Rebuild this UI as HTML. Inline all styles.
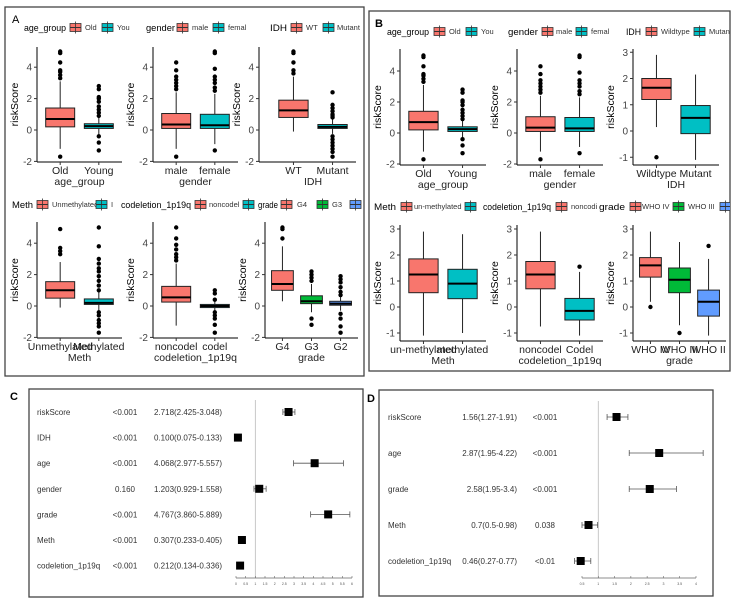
<!DOCTYPE html>
<html><head><meta charset="utf-8"><style>
body{margin:0;background:#fff;width:737px;height:606px;overflow:hidden}
svg{display:block;font-family:"Liberation Sans",sans-serif}
</style></head><body>
<svg id="fig" width="737" height="606">
<rect x="5" y="7" width="359" height="369" fill="none" stroke="#444" stroke-width="1.3"/>
<rect x="369" y="11" width="361" height="360" fill="none" stroke="#444" stroke-width="1.3"/>
<rect x="29" y="389" width="334" height="208" fill="none" stroke="#444" stroke-width="1.3"/>
<rect x="379" y="390" width="334" height="206" fill="none" stroke="#444" stroke-width="1.3"/>
<text x="12" y="23" font-size="11">A</text>
<text x="375" y="27" font-size="11" font-weight="bold">B</text>
<text x="10" y="400" font-size="11" font-weight="bold">C</text>
<text x="367" y="402" font-size="11" font-weight="bold">D</text>
<defs><clipPath id="clipA"><rect x="5" y="7" width="359" height="369"/></clipPath><clipPath id="clipB"><rect x="369" y="11" width="361" height="360"/></clipPath></defs>
<g id="gA" clip-path="url(#clipA)"></g>
<g id="gB" clip-path="url(#clipB)"></g>
<g id="gF"></g>
</svg>
<script>
// ---- Box plot data: [q1, median, q3, whiskerLow, whiskerHigh] ----
const a1Cats=["Old","Young"];
const a1Stats=[[0.2,0.7,1.4,-1.2,3.1],[0.1,0.25,0.4,-0.3,0.8]];
const a1Out=[[3.3,3.5,3.7,3.8,4.3,4.9,5.0,-1.7],[0.9,1.1,1.3,1.5,1.8,2.0,2.1,2.6,2.8,-0.4,-0.8,-1.3]];
const a2Cats=["male","female"];
const a2Stats=[[0.1,0.35,1.05,-1.2,2.4],[0.1,0.3,1.0,-0.9,2.3]];
const a2Out=[[2.6,2.8,3.0,3.2,3.4,3.8,4.3,-1.7],[2.5,2.7,3.0,3.2,3.4,3.9,4.9,5.0,-1.3]];
const a3Cats=["WT","Mutant"];
const a3Stats=[[0.8,1.25,1.9,-0.1,3.4],[0.1,0.2,0.35,-0.25,0.7]];
const a3Out=[[3.6,3.8,4.3,4.9,5.0],[0.8,0.9,1.0,1.2,1.4,1.6,2.4,-0.4,-0.6,-0.8,-1.0,-1.2,-1.4,-1.7]];
const a4Cats=["Unmethylated","Methylated"];
const a4Stats=[[0.5,1.0,1.55,-0.1,2.8],[0.1,0.2,0.45,-0.3,0.9]];
const a4Out=[[3.3,3.5,3.7,4.9],[1.0,1.3,1.6,1.9,2.2,2.4,2.7,3.0,3.8,5.0,-0.4,-0.6,-0.9,-1.1,-1.3,-1.7]];
const a5Cats=["noncodel","codel"];
const a5Stats=[[0.25,0.55,1.25,-1.25,2.7],[-0.1,0.0,0.1,-0.3,0.3]];
const a5Out=[[2.9,3.1,3.3,3.6,3.9,4.3,5.0],[0.4,0.8,1.0,-0.4,-0.6,-0.8,-1.2,-1.7]];
const a6Cats=["G4","G3","G2"];
const a6Stats=[[1.0,1.4,2.25,0.3,3.8],[0.15,0.3,0.65,-0.4,1.4],[0.05,0.15,0.3,-0.3,0.6]];
const a6Out=[[4.3,4.9,5.0],[1.6,1.8,2.0,2.2,-0.8,-1.2],[0.7,0.9,1.2,1.5,1.7,1.9,-0.5,-0.8,-1.3,-1.7]];
const b1Cats=["Old","Young"];
const b1Stats=[[0.2,0.7,1.4,-1.2,3.1],[0.1,0.25,0.4,-0.3,0.8]];
const b1Out=[[3.3,3.5,3.7,3.8,4.3,4.9,5.0,-1.7],[0.9,1.1,1.3,1.5,1.8,2.0,2.1,2.6,2.8,-0.4,-0.8,-1.3]];
const b2Cats=["male","female"];
const b2Stats=[[0.1,0.35,1.05,-1.2,2.4],[0.1,0.3,1.0,-0.9,2.3]];
const b2Out=[[2.6,2.8,3.0,3.2,3.4,3.8,4.3,-1.7],[2.5,2.7,3.0,3.2,3.4,3.9,4.9,5.0,-1.3]];
const b3Cats=["Wildtype","Mutant"];
const b3Stats=[[1.2,1.65,2.0,0.15,2.9],[-0.1,0.5,0.97,-1.1,2.15]];
const b3Out=[[-1.0],[]];
const b4Cats=["un-methylated","methylated"];
const b4Stats=[[0.55,1.25,1.85,-1.1,2.9],[0.32,0.9,1.45,-1.0,2.8]];
const b4Out=[[],[]];
const b5Cats=["noncodel","Codel"];
const b5Stats=[[0.7,1.25,1.75,-0.75,2.9],[-0.5,-0.15,0.33,-1.1,1.35]];
const b5Out=[[],[1.55]];
const b6Cats=["WHO IV","WHO III","WHO II"];
const b6Stats=[[1.15,1.6,1.9,0.2,2.9],[0.55,1.05,1.5,-0.7,2.5],[-0.35,0.2,0.65,-1.1,1.85]];
const b6Out=[[0.0],[-1.0],[2.35]];
const yTicksWide=[-2,0,2,4];
const yTicksNarrow=[-1,0,1,2,3];
// ---- Forest data ----
const cVars=["riskScore","IDH","age","gender","grade","Meth","codeletion_1p19q"];
const cP=["<0.001","<0.001","<0.001","0.160","<0.001","<0.001","<0.001"];
const cHR=[2.718,0.100,4.068,1.203,4.767,0.307,0.212];
const cLo=[2.425,0.075,2.977,0.929,3.860,0.233,0.134];
const cHi=[3.048,0.133,5.557,1.558,5.889,0.405,0.336];
const cTicks=[0,0.5,1,1.5,2,2.5,3,3.5,4,4.5,5,5.5,6];
const dVars=["riskScore","age","grade","Meth","codeletion_1p19q"];
const dHRtxt=["1.56(1.27-1.91)","2.87(1.95-4.22)","2.58(1.95-3.4)","0.7(0.5-0.98)","0.46(0.27-0.77)"];
const dP=["<0.001","<0.001","<0.001","0.038","<0.01"];
const dHR=[1.56,2.87,2.58,0.7,0.46];
const dLo=[1.27,1.95,1.95,0.5,0.27];
const dHi=[1.91,4.22,3.4,0.98,0.77];
const dTicks=[0.5,1,1.5,2,2.5,3,3.5,4];

const NS="http://www.w3.org/2000/svg";
function mk(tag,attrs,parent,txt){const e=document.createElementNS(NS,tag);for(const k in attrs)e.setAttribute(k,attrs[k]);if(txt!==undefined)e.textContent=txt;parent.appendChild(e);return e;}
const RED="#F8766D",TEAL="#00BFC4",GREEN="#00BA38",BLUE="#619CFF";

function boxPanel(parent,cfg,cats,stats,outs,colors,ticks,xTitle,name){
  const g=mk("g",{},parent);
  
  
  const y=v=>cfg.zero-v*cfg.unit;
  const n=cats.length, step=(cfg.pR-cfg.pL)/(n+0.2);
  const x=i=>cfg.pL+(i+0.6)*step;
  const bw=step*0.75;
  mk("line",{x1:cfg.ax,y1:cfg.top,x2:cfg.ax,y2:cfg.bot,stroke:"#000","stroke-width":1},g);
  mk("line",{x1:cfg.ax,y1:cfg.bot,x2:cfg.pR,y2:cfg.bot,stroke:"#000","stroke-width":1},g);
  ticks.forEach(t=>{
    mk("line",{x1:cfg.ax-3,y1:y(t),x2:cfg.ax,y2:y(t),stroke:"#333"},g);
    const tl=mk("text",{x:cfg.ax-5,y:y(t)+3.5,"font-size":10,"text-anchor":"end",fill:"#444"},g,String(t));
    
    
  });
  const yt=mk("text",{transform:`translate(${cfg.ax-19},${(cfg.top+cfg.bot)/2}) rotate(-90)`,"font-size":10.5,"text-anchor":"middle"},g,"riskScore");
  
  
  cats.forEach((c,i)=>{
    const s=stats[i],cx=x(i);
    mk("line",{x1:cx,y1:cfg.bot,x2:cx,y2:cfg.bot+3,stroke:"#333"},g);
    const xl=mk("text",{x:cx,y:cfg.bot+12,"font-size":10.5,"text-anchor":"middle",fill:"#222"},g,c);
    
    
    mk("line",{x1:cx,y1:y(s[4]),x2:cx,y2:y(s[3]),stroke:"#222","stroke-width":1},g);
    const r=mk("rect",{x:cx-bw/2,y:y(s[2]),width:bw,height:y(s[0])-y(s[2]),fill:colors[i],stroke:"#222","stroke-width":1},g);
    
    
    mk("line",{x1:cx-bw/2,y1:y(s[1]),x2:cx+bw/2,y2:y(s[1]),stroke:"#000","stroke-width":2},g);
    outs[i].forEach(o=>{
      const p=mk("circle",{cx:cx,cy:y(o),r:2.2,fill:"#000"},g);
      
      
    });
  });
  const xt=mk("text",{x:(cfg.pL+cfg.pR)/2,y:cfg.bot+23,"font-size":10.5,"text-anchor":"middle",fill:"#222"},g,xTitle);
  
  
}
function legend(parent,y,items,name){
  const g=mk("g",{},parent);
  
  
  items.forEach(it=>{
    if(it.t==="title"){mk("text",{x:it.x,y:y+4,"font-size":9.5,textLength:it.w||null,lengthAdjust:"spacingAndGlyphs"},g,it.s);}
    else if(it.t==="key"){mk("rect",{x:it.x,y:y-3.5,width:11,height:8,fill:it.c,stroke:"#333","stroke-width":0.8},g);mk("line",{x1:it.x,y1:y+0.5,x2:it.x+11,y2:y+0.5,stroke:"#333","stroke-width":1},g);mk("line",{x1:it.x+5.5,y1:y-5.5,x2:it.x+5.5,y2:y+6.5,stroke:"#333","stroke-width":0.8},g);}
    else {mk("text",{x:it.x,y:y+3,"font-size":7.5,fill:"#333"},g,it.s);}
  });
  g.querySelectorAll("text").forEach(t=>{if(t.getAttribute("textLength")==="null")t.removeAttribute("textLength");});
}
const gA=document.getElementById("gA"),gB=document.getElementById("gB"),gF=document.getElementById("gF");
const At={zero:130,unit:15.7,top:47,bot:162};
const Ab={zero:306,unit:15.7,top:222,bot:338};
boxPanel(gA,{...At,ax:37,pL:37,pR:122},a1Cats,a1Stats,a1Out,[RED,TEAL],yTicksWide,"age_group","box-a-age");
boxPanel(gA,{...At,ax:153,pL:153,pR:238},a2Cats,a2Stats,a2Out,[RED,TEAL],yTicksWide,"gender","box-a-gender");
boxPanel(gA,{...At,ax:259,pL:270,pR:356},a3Cats,a3Stats,a3Out,[RED,TEAL],yTicksWide,"IDH","box-a-idh");
boxPanel(gA,{...Ab,ax:37,pL:37,pR:122},a4Cats,a4Stats,a4Out,[RED,TEAL],yTicksWide,"Meth","box-a-meth");
boxPanel(gA,{...Ab,ax:153,pL:153,pR:238},a5Cats,a5Stats,a5Out,[RED,TEAL],yTicksWide,"codeletion_1p19q","box-a-codel");
boxPanel(gA,{...Ab,ax:265,pL:265,pR:358},a6Cats,a6Stats,a6Out,[RED,GREEN,BLUE],yTicksWide,"grade","box-a-grade");
const Bt={zero:133,unit:15.5,top:49,bot:165};
const Bt3={zero:131,unit:26.25,top:49,bot:165};
const Bb={zero:307,unit:26,top:225,bot:341};
boxPanel(gB,{...Bt,ax:400,pL:400,pR:486},b1Cats,b1Stats,b1Out,[RED,TEAL],yTicksWide,"age_group","box-b-age");
boxPanel(gB,{...Bt,ax:517,pL:517,pR:603},b2Cats,b2Stats,b2Out,[RED,TEAL],yTicksWide,"gender","box-b-gender");
boxPanel(gB,{...Bt3,ax:633,pL:633,pR:719},b3Cats,b3Stats,b3Out,[RED,TEAL],yTicksNarrow,"IDH","box-b-idh");
boxPanel(gB,{...Bb,ax:400,pL:400,pR:486},b4Cats,b4Stats,b4Out,[RED,TEAL],yTicksNarrow,"Meth","box-b-meth");
boxPanel(gB,{...Bb,ax:517,pL:517,pR:603},b5Cats,b5Stats,b5Out,[RED,TEAL],yTicksNarrow,"codeletion_1p19q","box-b-codel");
boxPanel(gB,{...Bb,ax:633,pL:633,pR:726},b6Cats,b6Stats,b6Out,[RED,GREEN,BLUE],yTicksNarrow,"grade","box-b-grade");
legend(gA,27,[{t:"title",x:24,s:"age_group",w:42},{t:"key",x:70,c:RED},{t:"l",x:85,s:"Old"},{t:"key",x:102,c:TEAL},{t:"l",x:117,s:"You"},
 {t:"title",x:146,s:"gender",w:29},{t:"key",x:177,c:RED},{t:"l",x:192,s:"male"},{t:"key",x:213,c:TEAL},{t:"l",x:228,s:"femal"},
 {t:"title",x:270,s:"IDH",w:17},{t:"key",x:291,c:RED},{t:"l",x:306,s:"WT"},{t:"key",x:323,c:TEAL},{t:"l",x:337,s:"Mutant"}],"legend-a-top");
legend(gA,204,[{t:"title",x:12,s:"Meth",w:21},{t:"key",x:37,c:RED},{t:"l",x:52,s:"Unmethylated"},{t:"key",x:96,c:TEAL},{t:"l",x:111,s:"I"},
 {t:"title",x:121,s:"codeletion_1p19q",w:70},{t:"key",x:195,c:RED},{t:"l",x:209,s:"noncodel"},{t:"key",x:243,c:TEAL},
 {t:"title",x:258,s:"grade",w:20},{t:"key",x:281,c:RED},{t:"l",x:297,s:"G4"},{t:"key",x:317,c:GREEN},{t:"l",x:332,s:"G3"},{t:"key",x:350,c:BLUE},{t:"l",x:364,s:"G"}],"legend-a-bottom");
legend(gB,31,[{t:"title",x:387,s:"age_group",w:42},{t:"key",x:434,c:RED},{t:"l",x:449,s:"Old"},{t:"key",x:466,c:TEAL},{t:"l",x:481,s:"You"},
 {t:"title",x:508,s:"gender",w:30},{t:"key",x:542,c:RED},{t:"l",x:556,s:"male"},{t:"key",x:576,c:TEAL},{t:"l",x:591,s:"femal"},
 {t:"title",x:626,s:"IDH",w:15},{t:"key",x:646,c:RED},{t:"l",x:661,s:"Wildtype"},{t:"key",x:694,c:TEAL},{t:"l",x:709,s:"Mutant"}],"legend-b-top");
legend(gB,206,[{t:"title",x:374,s:"Meth",w:22},{t:"key",x:401,c:RED},{t:"l",x:414,s:"un-methylated"},{t:"key",x:465,c:TEAL},
 {t:"title",x:483,s:"codeletion_1p19q",w:68},{t:"key",x:556,c:RED},{t:"l",x:571,s:"noncodi"},
 {t:"title",x:599,s:"grade",w:26},{t:"key",x:630,c:RED},{t:"l",x:642,s:"WHO IV"},{t:"key",x:673,c:GREEN},{t:"l",x:688,s:"WHO III"},{t:"key",x:720,c:BLUE}],"legend-b-bottom");

function forest(cfg,vars,cols,hr,lo,hi,ticks,name){
  const g=mk("g",{},gF);
  
  
  const x=v=>cfg.x0+(v-cfg.v0)*cfg.u;
  const ry=i=>cfg.r0+i*cfg.rs;
  mk("line",{x1:x(1),y1:cfg.vTop,x2:x(1),y2:cfg.axY,stroke:"#bbb","stroke-width":0.8},g);
  mk("line",{x1:x(ticks[0]),y1:cfg.axY,x2:x(ticks[ticks.length-1]),y2:cfg.axY,stroke:"#666","stroke-width":0.7},g);
  ticks.forEach(t=>{mk("line",{x1:x(t),y1:cfg.axY-2,x2:x(t),y2:cfg.axY,stroke:"#666","stroke-width":0.6},g);mk("text",{x:x(t),y:cfg.axY+7,"font-size":3.5,"text-anchor":"middle",fill:"#555"},g,String(t));});
  vars.forEach((v,i)=>{
    const yy=ry(i);
    const nm=mk("text",{x:cfg.nameX,y:yy+3,"font-size":8,fill:"#333"},g,v);
    
    
    cols.forEach(c=>{mk("text",{x:c.x,y:yy+3,"font-size":8,fill:"#333","text-anchor":c.a},g,c.v[i]);});
    mk("line",{x1:x(lo[i]),y1:yy,x2:x(hi[i]),y2:yy,stroke:"#555","stroke-width":0.8},g);
    mk("line",{x1:x(lo[i]),y1:yy-3,x2:x(lo[i]),y2:yy+3,stroke:"#555","stroke-width":0.8},g);
    mk("line",{x1:x(hi[i]),y1:yy-3,x2:x(hi[i]),y2:yy+3,stroke:"#555","stroke-width":0.8},g);
    const sq=mk("rect",{x:x(hr[i])-4,y:yy-4,width:8,height:8,fill:"#000"},g);
    
    
  });
}
const cHRtxt=cHR.map((h,i)=>h.toFixed(3)+"("+cLo[i].toFixed(3)+"-"+cHi[i].toFixed(3)+")");
forest({x0:236,v0:0,u:116/6,r0:412,rs:25.6,vTop:400,axY:578,nameX:37},cVars,[{x:125,a:"middle",v:cP},{x:154,a:"start",v:cHRtxt}],cHR,cLo,cHi,cTicks,"forest-c");
forest({x0:582,v0:0.5,u:114/3.5,r0:417,rs:36,vTop:401,axY:578,nameX:388},dVars,[{x:517,a:"end",v:dHRtxt},{x:545,a:"middle",v:dP}],dHR,dLo,dHi,dTicks,"forest-d");
</script>
</body></html>
